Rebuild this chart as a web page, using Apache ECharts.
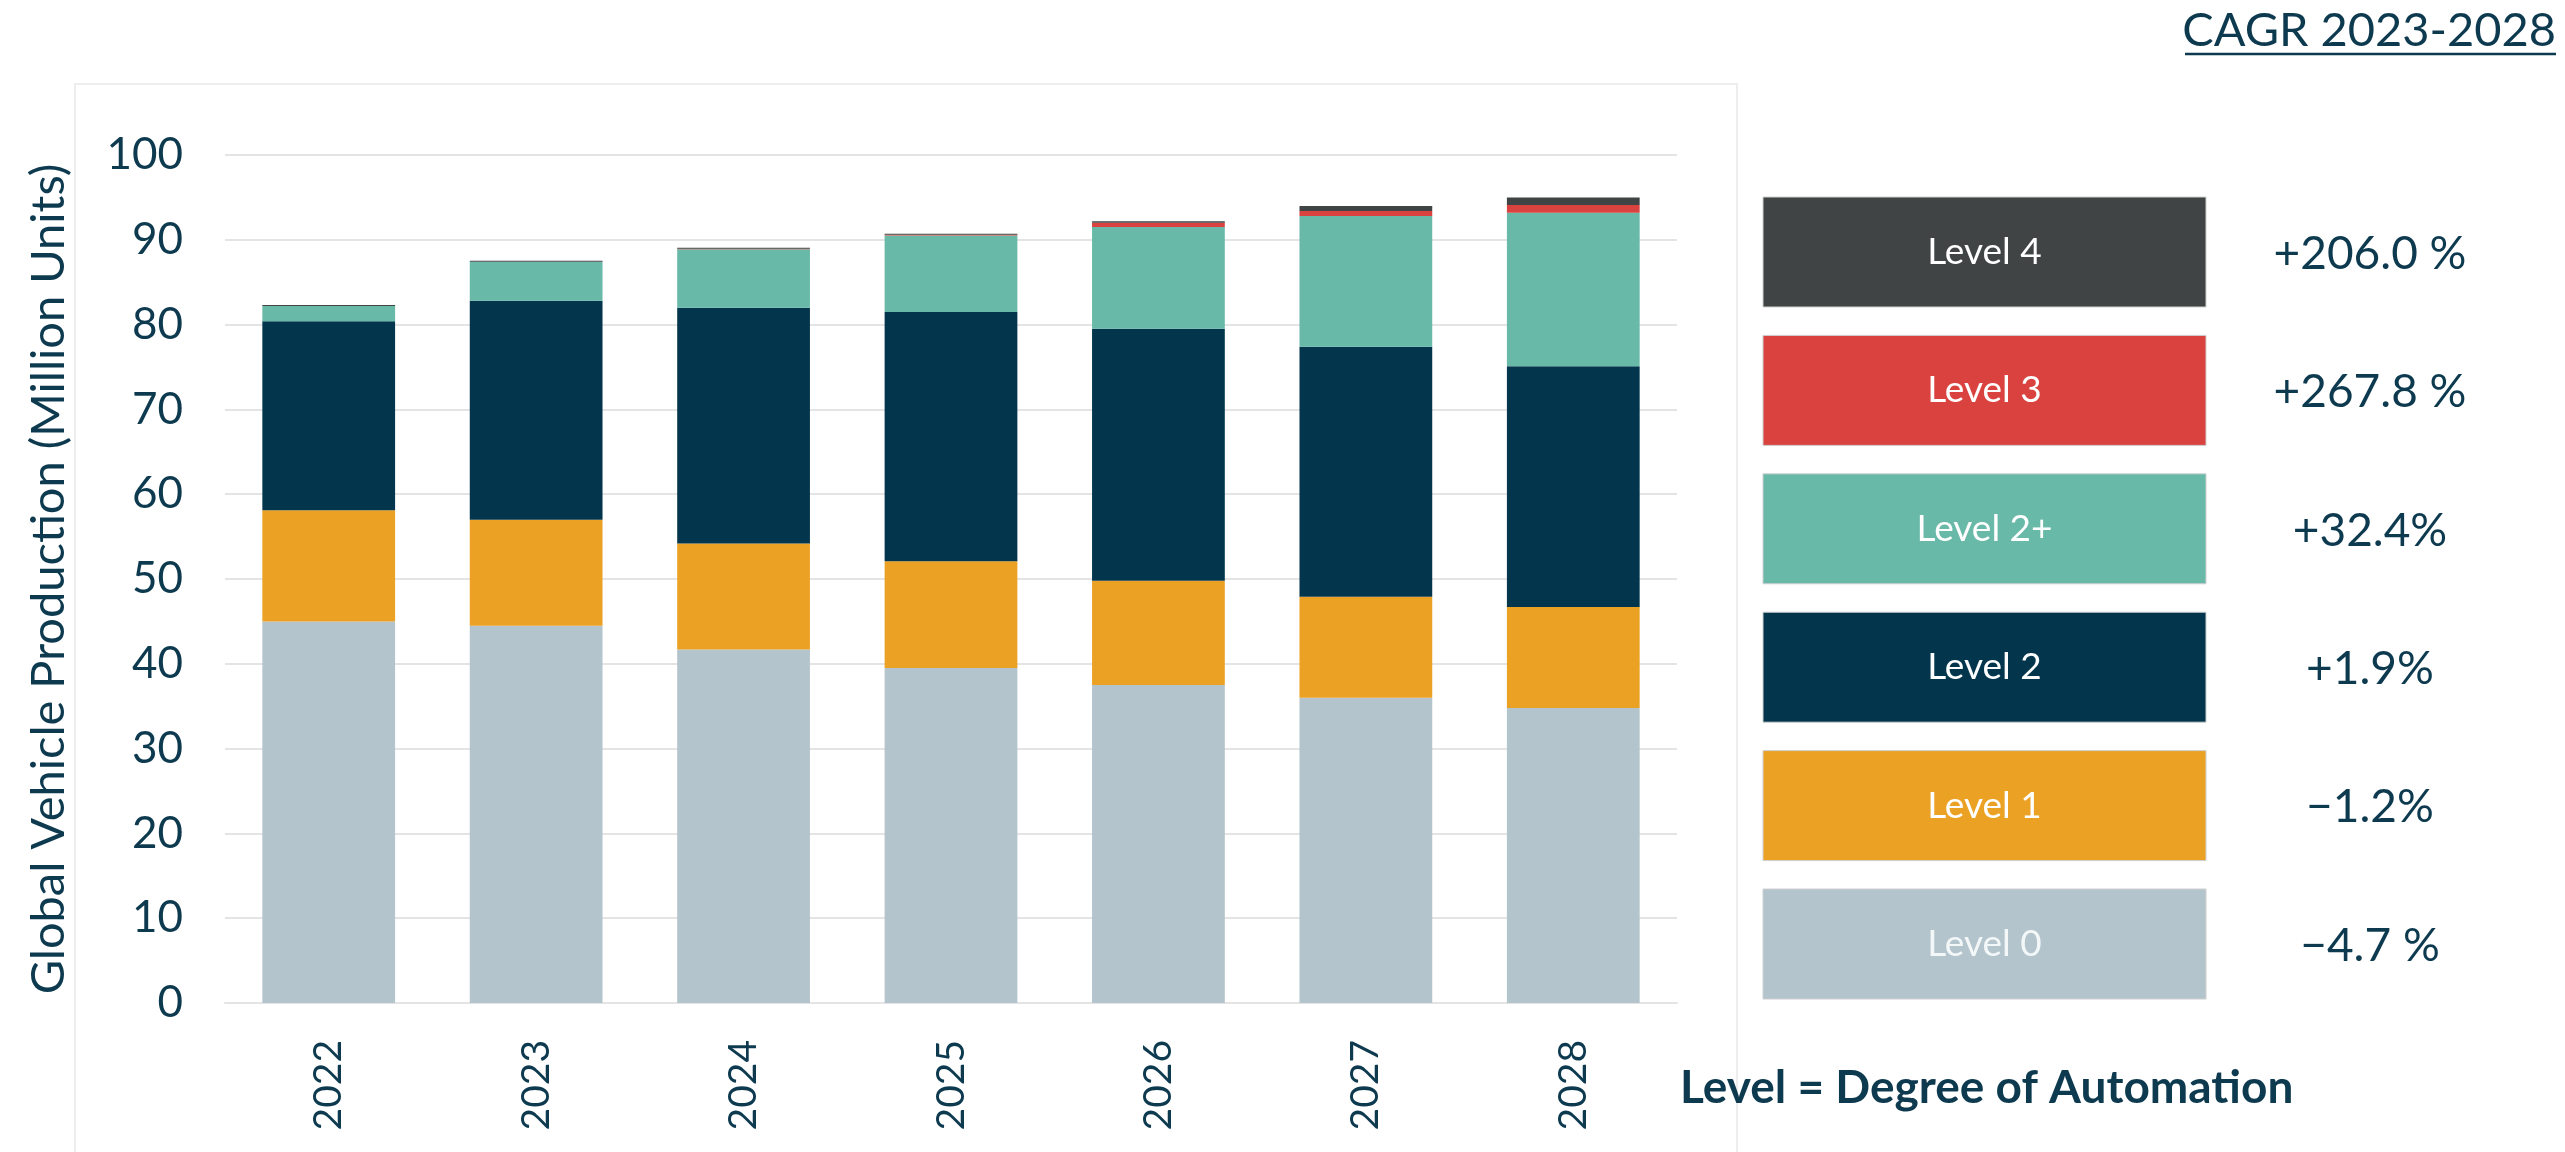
<!DOCTYPE html>
<html><head><meta charset="utf-8">
<script src="https://cdn.jsdelivr.net/npm/echarts@6/dist/echarts.min.js"></script>
<style>html,body{margin:0;padding:0;background:#fff}#c{width:2565px;height:1152px}</style>
</head><body><div id="c"></div>
<script>
// ---- data ----
const years = ['2022', '2023', '2024', '2025', '2026', '2027', '2028'];
const level0 = [45.0, 44.5, 41.7, 39.5, 37.5, 36.0, 34.8];
const level1 = [13.1, 12.5, 12.5, 12.6, 12.3, 11.9, 11.9];
const level2 = [22.3, 25.8, 27.8, 29.4, 29.7, 29.5, 28.4];
const level2p = [1.8, 4.6, 6.9, 9.0, 12.0, 15.4, 18.1];
const level3 = [0.0, 0.02, 0.05, 0.1, 0.5, 0.6, 0.9];
const level4 = [0.1, 0.1, 0.1, 0.1, 0.2, 0.6, 0.9];
const yTicks = [0, 10, 20, 30, 40, 50, 60, 70, 80, 90, 100];
const levelNames = ['Level 0', 'Level 1', 'Level 2', 'Level 2+', 'Level 3', 'Level 4'];
const cagrLabels = ['\u22124.7 %', '\u22121.2%', '+1.9%', '+32.4%', '+267.8 %', '+206.0 %'];
const titleText = 'CAGR 2023-2028';
const noteText = 'Level = Degree of Automation';
const yName = 'Global Vehicle Production (Million Units)';

// ---- style ----
const colors = ['#b3c4cc', '#eba224', '#03364d', '#69b9a8', '#d9423f', '#404445'];
const boxText = ['#f3f7f8', '#ffffff', '#ffffff', '#ffffff', '#ffffff', '#ffffff'];
const navy = '#0d3a4f';
const FONT = 'Lato, "Noto Sans", sans-serif';

const seriesData = [level0, level1, level2, level2p, level3, level4];

const chart = echarts.init(document.getElementById('c'), null, {renderer: 'canvas'});

const graphics = [];
// faint frame around chart (open at the bottom edge of the picture)
graphics.push({type: 'rect', shape: {x: 75, y: 84, width: 1662, height: 1100},
  style: {fill: 'none', stroke: '#eeeeee', lineWidth: 2}, silent: true, z: -10});
// legend boxes (top = Level 4)
const boxLeft = 1763, boxW = 443, boxH = 110, boxTop0 = 197, boxStep = 138.4;
for (let k = 0; k < levelNames.length; k++) {
  const i = levelNames.length - 1 - k;
  const y = boxTop0 + k * boxStep;
  graphics.push({type: 'rect', shape: {x: boxLeft, y: y, width: boxW, height: boxH},
    style: {fill: colors[i], stroke: '#d0d0d0', lineWidth: 1}});
  graphics.push({type: 'text', style: {text: levelNames[i], x: boxLeft + boxW / 2, y: y + boxH / 2,
    align: 'center', verticalAlign: 'middle', fontSize: 37, fontFamily: FONT, fill: boxText[i]}});
  graphics.push({type: 'text', style: {text: cagrLabels[i], x: 2370, y: y + boxH / 2 + 2,
    align: 'center', verticalAlign: 'middle', fontSize: 46, fontFamily: FONT, fill: navy}});
}
// title with underline
graphics.push({type: 'text', style: {text: titleText, x: 2556, y: 31, align: 'right', verticalAlign: 'middle',
  fontSize: 47, fontFamily: FONT, fill: navy}});
graphics.push({type: 'line', shape: {x1: 2185, y1: 54, x2: 2556, y2: 54}, style: {stroke: navy, lineWidth: 2.5}});
// note
graphics.push({type: 'text', style: {text: noteText, x: 1680, y: 1088, align: 'left', verticalAlign: 'middle',
  fontSize: 46, fontWeight: 'bold', fontFamily: FONT, fill: navy}});

const option = {
  backgroundColor: '#ffffff',
  animation: false,
  grid: {left: 225, right: 888, top: 155, bottom: 149, containLabel: false},
  xAxis: {
    type: 'category', data: years,
    axisLine: {show: true, lineStyle: {color: '#e4e4e4', width: 2}},
    axisTick: {show: false},
    axisLabel: {rotate: 90, margin: 37, fontSize: 39, fontFamily: FONT, color: navy}
  },
  yAxis: {
    type: 'value', min: yTicks[0], max: yTicks[yTicks.length - 1], interval: yTicks[1] - yTicks[0],
    name: yName, nameLocation: 'middle', nameGap: 153, nameRotate: 90,
    nameTextStyle: {fontSize: 47, fontFamily: FONT, color: navy},
    axisLine: {show: false}, axisTick: {show: false},
    axisLabel: {margin: 42, fontSize: 44, fontFamily: FONT, color: navy},
    splitLine: {lineStyle: {color: '#e4e4e4', width: 2}}
  },
  series: levelNames.map((n, i) => ({
    name: n, type: 'bar', stack: 'total', barWidth: '64%',
    data: seriesData[i], itemStyle: {color: colors[i]}, emphasis: {disabled: true}
  })),
  graphic: graphics
};
chart.setOption(option);
</script>
</body></html>
